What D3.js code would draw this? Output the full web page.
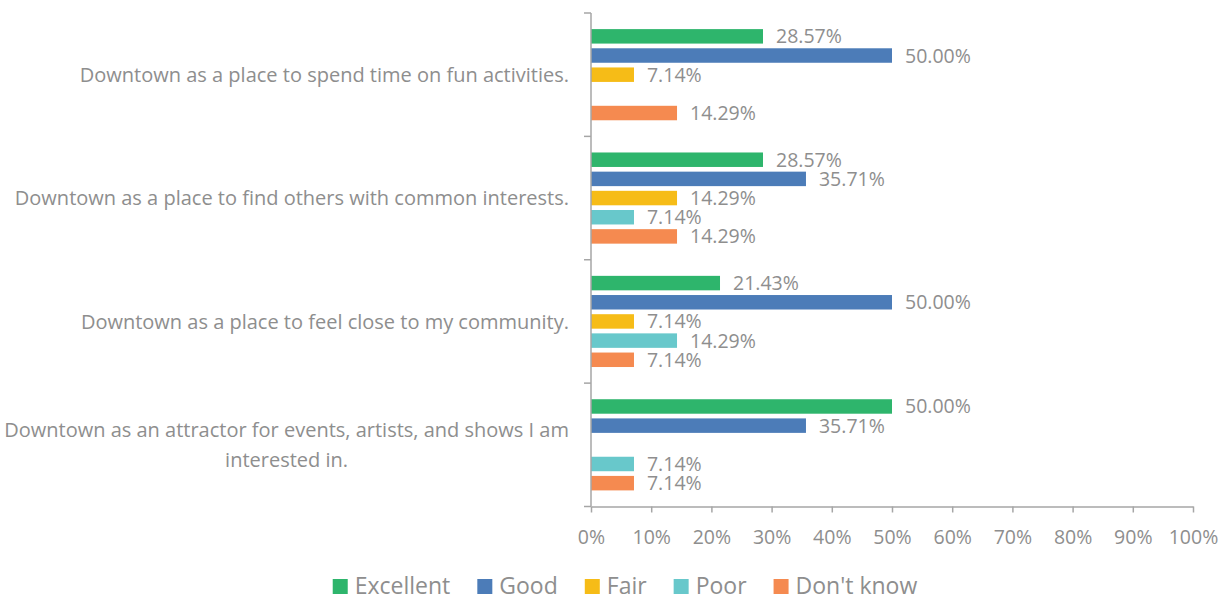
<!DOCTYPE html>
<html><head><meta charset="utf-8">
<script src="https://cdn.jsdelivr.net/npm/d3@7"></script>
<style>body{margin:0;background:#fff;} svg{display:block;font-family:"Open Sans",sans-serif;}</style>
</head><body><svg id="c" width="1230" height="598"></svg>
<script>
const categories = [
  "Downtown as a place to spend time on fun activities.",
  "Downtown as a place to find others with common interests.",
  "Downtown as a place to feel close to my community.",
  "Downtown as an attractor for events, artists, and shows I am interested in."
];
const seriesNames = ["Excellent","Good","Fair","Poor","Don't know"];
const excellent = [28.57, 28.57, 21.43, 50.00];
const good      = [50.00, 35.71, 50.00, 35.71];
const fair      = [7.14, 14.29, 7.14, 0];
const poor      = [0, 7.14, 14.29, 7.14];
const dontKnow  = [14.29, 14.29, 7.14, 7.14];
const xTicks = [0,10,20,30,40,50,60,70,80,90,100];
const colors = ["#2EB56C","#4C7CB8","#F6BC17","#68C8CB","#F58A50"];
const seriesVals = [excellent, good, fair, poor, dontKnow];

const svg = d3.select("#c");
const pLeft = 591, pRight = 1193, pTop = 13, pBottom = 506.5;
const gray = "#8e8e8e", axisCol = "#a6a6a6";
const fs = 19.5, catFs = 20;

const x = d3.scaleLinear().domain([0,100]).range([pLeft,pRight]);
const y0 = d3.scaleBand().domain(categories).range([pTop,pBottom]).padding(0);
const y1 = d3.scaleBand().domain(seriesNames).range([0,y0.bandwidth()]).paddingInner(0.245).paddingOuter(0.84);

// bars
categories.forEach((c,ci)=>{
  const g = svg.append("g").attr("transform",`translate(0,${y0(c)})`);
  seriesNames.forEach((s,si)=>{
    const v = seriesVals[si][ci];
    if (!v) return;
    g.append("rect").attr("x",x(0)).attr("y",y1(s)).attr("width",x(v)-x(0)).attr("height",y1.bandwidth()).attr("fill",colors[si]);
    g.append("text").attr("x",x(v)+13).attr("y",y1(s)+y1.bandwidth()/2).attr("dy","0.36em")
      .attr("font-size",fs).attr("fill",gray).text(v.toFixed(2)+"%");
  });
});

// x axis
const xa = svg.append("g").attr("transform",`translate(0,${pBottom})`)
  .call(d3.axisBottom(x).tickValues(xTicks).tickFormat(d=>d+"%").tickSize(6).tickSizeOuter(0));
xa.select(".domain").attr("stroke",axisCol).attr("stroke-width",1.5);
xa.selectAll(".tick line").attr("stroke",axisCol).attr("stroke-width",1.5);
xa.selectAll(".tick text").attr("fill",gray).attr("font-size",fs).attr("font-family","Open Sans")
  .attr("y",30).attr("dy","0.36em");

// y axis line and boundary ticks
svg.append("line").attr("x1",pLeft).attr("x2",pLeft).attr("y1",pTop).attr("y2",pBottom).attr("stroke",axisCol).attr("stroke-width",1.5);
const bounds = categories.map(c=>y0(c)).concat([pBottom]);
svg.selectAll(".yt").data(bounds).enter().append("line")
  .attr("x1",pLeft-7).attr("x2",pLeft).attr("y1",d=>d).attr("y2",d=>d).attr("stroke",axisCol).attr("stroke-width",1.5);

// category labels
const labelRight = 569;
categories.forEach((c,ci)=>{
  const cy = y0(c)+y0.bandwidth()/2;
  if (ci===3) {
    const lines = ["Downtown as an attractor for events, artists, and shows I am","interested in."];
    const t = svg.append("text").attr("font-size",catFs).attr("fill",gray).attr("text-anchor","middle");
    const tmp = svg.append("text").attr("font-size",catFs).text(lines[0]);
    const w = tmp.node().getComputedTextLength(); tmp.remove();
    const cx = labelRight - w/2;
    lines.forEach((l,li)=>{
      t.append("tspan").attr("x",cx).attr("y",cy + (li-0.5)*30).attr("dy","0.36em").text(l);
    });
  } else {
    svg.append("text").attr("x",labelRight).attr("y",cy).attr("dy","0.36em").attr("text-anchor","end")
      .attr("font-size",catFs).attr("fill",gray).text(c);
  }
});

// legend
const legFs = 23, sq = 15, gapSq = 7, gapItem = 27, legCenter = 625, legY = 586;
const lg = svg.append("g");
const widths = seriesNames.map(s=>{const t=svg.append("text").attr("font-size",legFs).text(s);const w=t.node().getComputedTextLength();t.remove();return w;});
const total = d3.sum(widths) + seriesNames.length*(sq+gapSq) + (seriesNames.length-1)*gapItem;
let lx = legCenter - total/2;
seriesNames.forEach((s,i)=>{
  lg.append("rect").attr("x",lx).attr("y",legY-7).attr("width",sq).attr("height",sq).attr("fill",colors[i]);
  lg.append("text").attr("x",lx+sq+gapSq).attr("y",legY).attr("dy","0.36em").attr("font-size",legFs).attr("fill",gray).text(s);
  lx += sq+gapSq+widths[i]+gapItem;
});
</script></body></html>
